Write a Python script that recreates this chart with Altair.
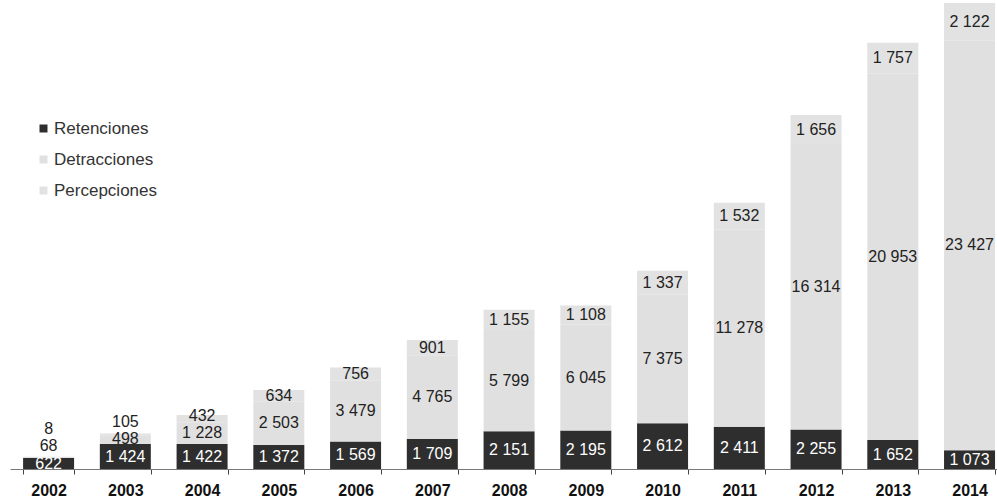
import altair as alt
import pandas as pd

years = ["2002", "2003", "2004", "2005", "2006", "2007", "2008",
         "2009", "2010", "2011", "2012", "2013", "2014"]
retenciones = [622, 1424, 1422, 1372, 1569, 1709, 2151, 2195, 2612, 2411, 2255, 1652, 1073]
detracciones = [68, 498, 1228, 2503, 3479, 4765, 5799, 6045, 7375, 11278, 16314, 20953, 23427]
percepciones = [8, 105, 432, 634, 756, 901, 1155, 1108, 1337, 1532, 1656, 1757, 2122]

series = ["Retenciones", "Detracciones", "Percepciones"]
colors = ["#2e2e2e", "#e0e0e0", "#e2e2e2"]

GAP = 1000  # minimum label spacing in data units (avoid overlapping labels)


def fmt(v):
    return f"{v:,}".replace(",", " ")


rows = []
for i, yr in enumerate(years):
    r, d, p = retenciones[i], detracciones[i], percepciones[i]
    mid_r = r / 2
    mid_d = r + d / 2
    mid_p = r + d + p / 2
    lab_r = mid_r
    lab_d = max(mid_d, lab_r + GAP)
    lab_p = max(mid_p, lab_d + GAP)
    rows.append(dict(year=yr, serie="Retenciones", order=0, y0=0, y1=r, ly=lab_r, label=fmt(r)))
    rows.append(dict(year=yr, serie="Detracciones", order=1, y0=r, y1=r + d, ly=lab_d, label=fmt(d)))
    rows.append(dict(year=yr, serie="Percepciones", order=2, y0=r + d, y1=r + d + p, ly=lab_p, label=fmt(p)))
df = pd.DataFrame(rows)

xscale = alt.Scale(domain=years, paddingInner=0.3355, paddingOuter=0.098, align=0.87)
yscale = alt.Scale(domain=[0, 26800], nice=False, zero=True)

base = alt.Chart(df)

bars = base.mark_bar().encode(
    x=alt.X("year:N", scale=xscale, sort=years,
            axis=alt.Axis(title=None, labelAngle=0, labelFontSize=16, labelFontWeight="bold",
                          labelColor="#111", labelFont="Liberation Sans", domainColor="#777",
                          tickColor="#444", tickSize=5, tickBand="extent", labelPadding=8,
                          grid=False)),
    y=alt.Y("y0:Q", scale=yscale, axis=None),
    y2="y1:Q",
    color=alt.Color("serie:N", scale=alt.Scale(domain=series, range=colors),
                    legend=alt.Legend(title=None, orient="none", legendX=25, legendY=120,
                                      symbolType="square", symbolSize=64, symbolStrokeWidth=0,
                                      labelFontSize=17, labelColor="#333",
                                      labelFont="Liberation Sans", rowPadding=13,
                                      labelOffset=2)),
    order=alt.Order("order:Q"),
)

text_dark = base.transform_filter(alt.datum.serie != "Retenciones").mark_text(
    fontSize=16, font="Liberation Sans", color="#222", baseline="middle", align="center"
).encode(
    x=alt.X("year:N", scale=xscale, sort=years),
    y=alt.Y("ly:Q", scale=yscale),
    text="label:N",
)

text_light = base.transform_filter(alt.datum.serie == "Retenciones").mark_text(
    fontSize=16, font="Liberation Sans", color="#ffffff", baseline="middle", align="center"
).encode(
    x=alt.X("year:N", scale=xscale, sort=years),
    y=alt.Y("ly:Q", scale=yscale),
    text="label:N",
)

chart = alt.layer(bars, text_dark, text_light).properties(
    width=987, height=469,
    autosize=alt.AutoSizeParams(type="none"),
    padding={"left": 10, "top": 0, "right": 0, "bottom": 30},
    background="white",
).configure_view(stroke=None)

chart.save("out.html", embed_options={"renderer": "svg", "actions": False})
